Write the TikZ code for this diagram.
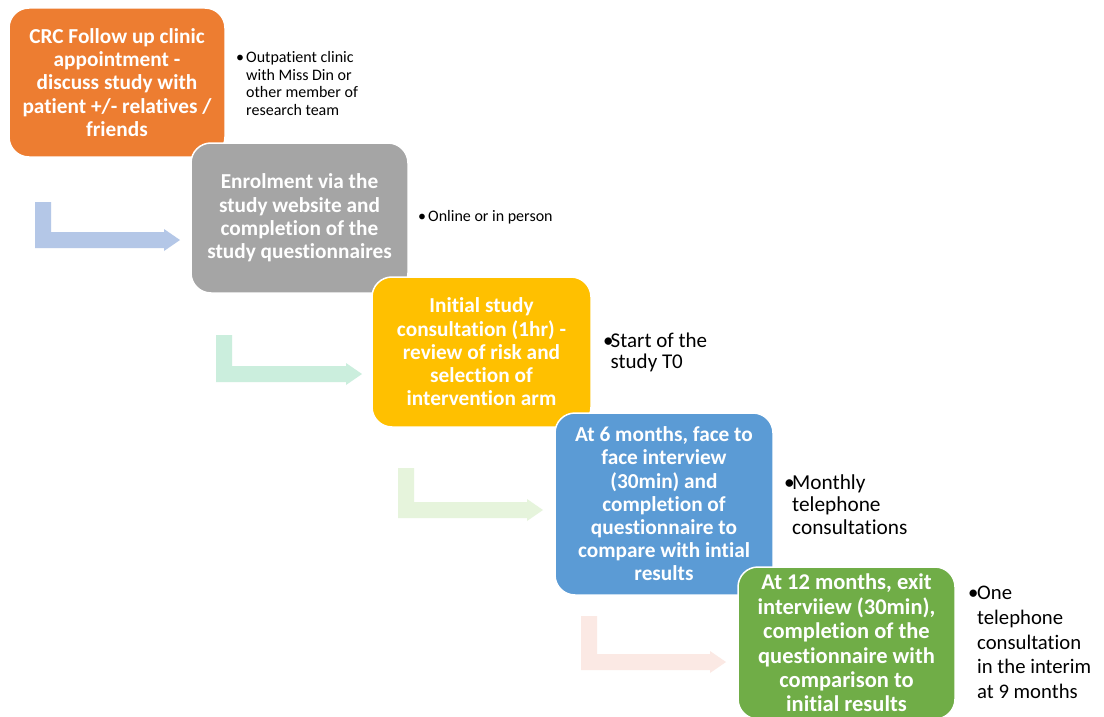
\documentclass[tikz,border=0pt]{standalone}
\usepackage{fontspec}
\setmainfont{Carlito}[Ligatures=NoCommon]
\definecolor{corange}{HTML}{ED7D31}
\definecolor{cgray}{HTML}{A5A5A5}
\definecolor{cyellow}{HTML}{FFC000}
\definecolor{cblue}{HTML}{5B9BD5}
\definecolor{cgreen}{HTML}{70AD47}
\definecolor{aone}{HTML}{B4C7E7}
\definecolor{atwo}{HTML}{CBEEDD}
\definecolor{athree}{HTML}{E6F4DC}
\definecolor{afour}{HTML}{FBE9E4}
\newcommand{\bentarr}[5]{%
  \fill[#5] (#1,#2) -- ({#1+16},#2) -- ({#1+16},{#3-8}) -- ({#4-16},{#3-8}) -- ({#4-16},{#3-11})
    -- (#4,#3) -- ({#4-16},{#3+11}) -- ({#4-16},{#3+8}) -- (#1,{#3+8}) -- cycle;}
\begin{document}
\begin{tikzpicture}[x=1pt,y=-1pt,
  stagebox/.style={rectangle, rounded corners=20pt, draw=white, line width=1.5pt,
    text=white, font=\bfseries\fontsize{21.3}{23.2}\selectfont, align=center, inner sep=0pt},
  sidenote/.style={anchor=west, inner sep=0pt, align=left, text=black}]
\useasboundingbox[fill=white] (0,0) rectangle (1104,717);
% bent arrows
\bentarr{35}{202}{240}{180}{aone}
\bentarr{216}{335}{374}{362}{atwo}
\bentarr{398}{468}{510}{543}{athree}
\bentarr{581}{616}{662}{726}{afour}
% stages
\node[stagebox, fill=corange, minimum width=216pt, minimum height=149pt] (s1) at (117,82.5)
  {CRC Follow up clinic\\appointment -\\discuss study with\\patient +/- relatives /\\friends};
\node[stagebox, fill=cgray, minimum width=217pt, minimum height=150pt] (s2) at (299.5,218)
  {Enrolment via the\\study website and\\completion of the\\study questionnaires};
\node[stagebox, fill=cyellow, minimum width=219pt, minimum height=150pt] (s3) at (481.5,352)
  {Initial study\\consultation (1hr) -\\review of risk and\\selection of\\intervention arm};
\node[stagebox, fill=cblue, minimum width=218pt, minimum height=182pt] (s4) at (664,504)
  {At 6 months, face to\\face interview\\(30min) and\\completion of\\questionnaire to\\compare with intial\\results};
\node[stagebox, fill=cgreen, minimum width=217pt, minimum height=152pt,
  font=\bfseries\fontsize{22.5}{24.4}\selectfont] (s5) at (846.5,643)
  {At 12 months, exit\\interviiew (30min),\\completion of the\\questionnaire with\\comparison to\\initial results};
% side notes
\node[sidenote, font=\fontsize{16}{17.7}\selectfont] (n1) at (236,83.5)
  {\makebox[10pt][l]{•}Outpatient clinic\\\hspace*{10pt}with Miss Din or\\\hspace*{10pt}other member of\\\hspace*{10pt}research team};
\node[sidenote, font=\fontsize{16}{17.7}\selectfont] (n2) at (418,217)
  {\makebox[10pt][l]{•}Online or in person};
\node[sidenote, font=\fontsize{21}{21.5}\selectfont] (n3) at (603,352.5)
  {\makebox[7.5pt][l]{•}Start of the\\\hspace*{7.5pt}study T0};
\node[sidenote, font=\fontsize{21.3}{22.5}\selectfont] (n4) at (784,504.5)
  {\makebox[8pt][l]{•}Monthly\\\hspace*{8pt}telephone\\\hspace*{8pt}consultations};
\node[sidenote, font=\fontsize{20.7}{24.75}\selectfont] (n5) at (968,642.5)
  {\makebox[9pt][l]{•}One\\\hspace*{9pt}telephone\\\hspace*{9pt}consultation\\\hspace*{9pt}in the interim\\\hspace*{9pt}at 9 months};
\end{tikzpicture}
\end{document}
